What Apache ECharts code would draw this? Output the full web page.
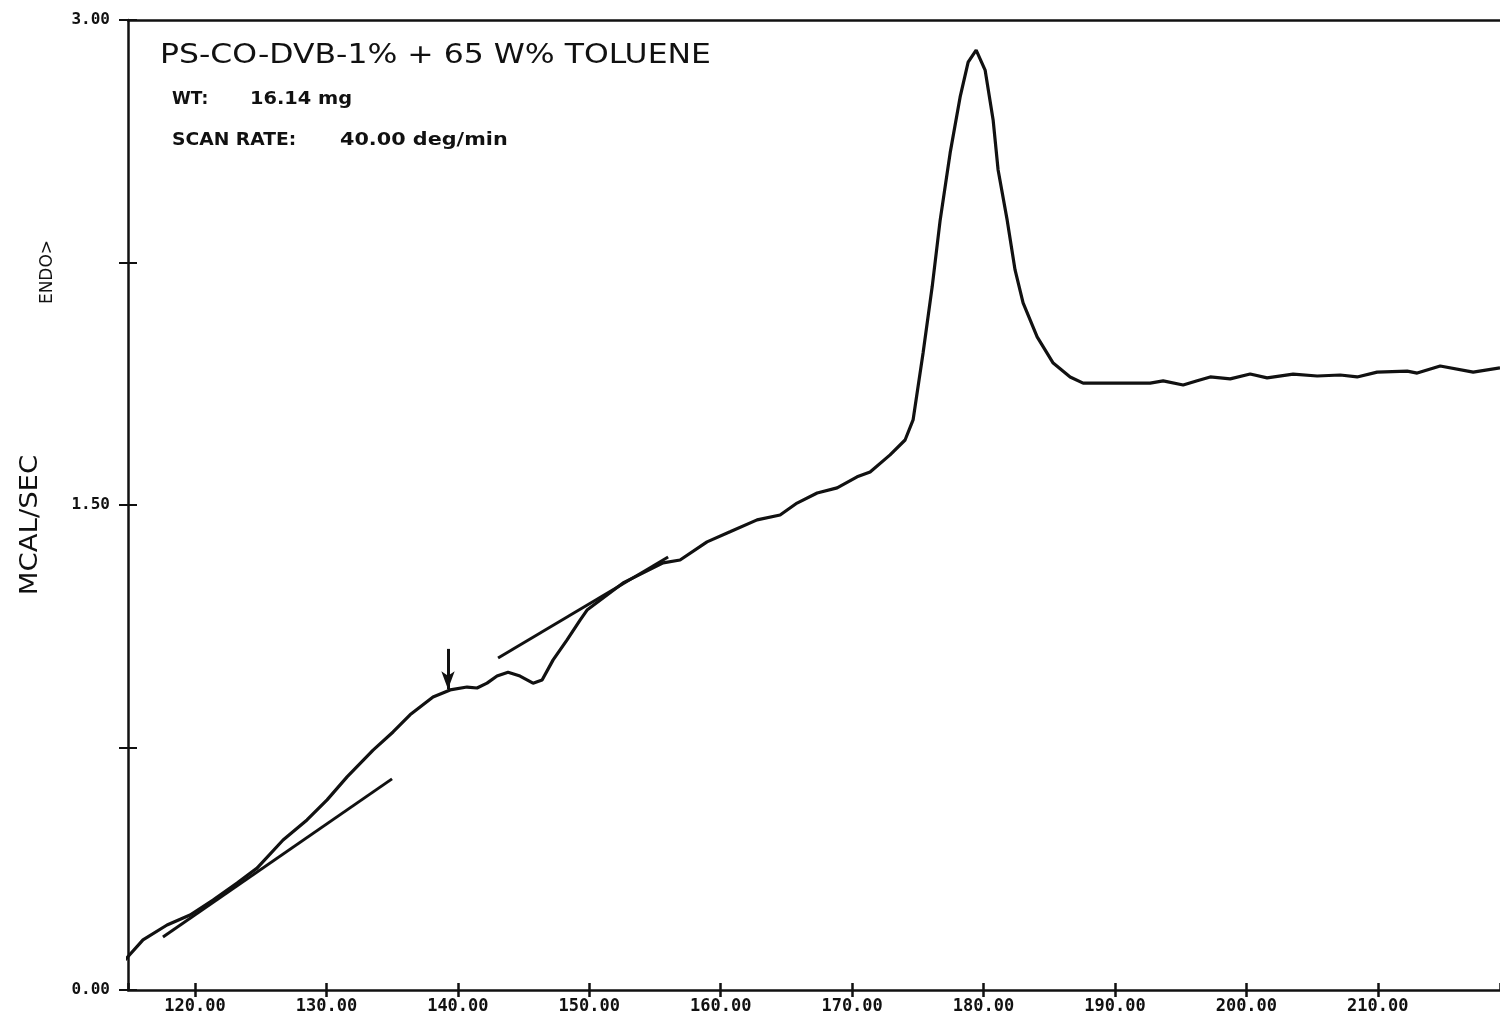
<!DOCTYPE html>
<html><head><meta charset="utf-8">
<script src="https://cdn.jsdelivr.net/npm/echarts@6/dist/echarts.min.js"></script>
<style>html,body{margin:0;padding:0;background:#fff;} #c{width:1500px;height:1022px;}</style>
</head><body><div id="c"></div>
<script>
// ---- data ----
const temperature = [114.67,116.04,117.87,119.62,121.37,123.20,124.72,126.70,128.52,130.05,131.57,133.55,135.07,136.36,138.11,139.41,
  140.70,141.46,142.22,142.98,143.82,144.73,145.72,146.41,147.25,148.31,149.30,149.83,152.57,155.62,156.91,158.96,160.71,162.77,
  164.52,165.81,167.34,168.86,170.38,171.37,172.89,174.03,174.64,175.40,176.09,176.70,177.46,178.22,178.83,179.44,180.12,180.73,
  181.11,181.80,182.40,183.01,184.08,185.30,186.59,187.58,190.17,192.68,193.67,195.19,196.26,197.25,198.77,200.29,201.58,203.56,
  205.39,207.14,208.43,209.95,212.24,213.00,214.75,217.26,219.30];
const heatFlow = [0.093,0.155,0.201,0.232,0.278,0.331,0.377,0.464,0.526,0.588,0.659,0.742,0.798,0.851,0.906,0.928,
  0.937,0.934,0.949,0.971,0.983,0.971,0.949,0.959,1.021,1.083,1.144,1.175,1.259,1.321,1.330,1.386,1.417,1.454,
  1.469,1.506,1.537,1.553,1.587,1.602,1.655,1.701,1.763,1.970,2.174,2.381,2.589,2.762,2.870,2.907,2.845,2.691,
  2.536,2.381,2.227,2.125,2.020,1.939,1.896,1.877,1.877,1.877,1.884,1.871,1.884,1.896,1.890,1.905,1.893,1.905,
  1.899,1.902,1.896,1.911,1.914,1.908,1.930,1.911,1.924];
const tangent1X = [117.56, 134.99];
const tangent1Y = [0.164, 0.653];
const tangent2X = [143.06, 156.00];
const tangent2Y = [1.027, 1.339];
const arrowX = 139.25;
const arrowY = [1.055, 0.93];
const yLabelValues = [0, 1.5, 3];
const titleText = 'PS-CO-DVB-1% + 65 W% TOLUENE';
const weightLabel = 'WT:';
const weightValue = '16.14 mg';
const rateLabel = 'SCAN RATE:';
const rateValue = '40.00 deg/min';
const yAxisName = 'MCAL/SEC';
const endoName = 'ENDO>';

// ---- chart ----
const INK = '#111';
const MONO = '"DejaVu Sans Mono", "Liberation Mono", monospace';
const SANS = '"DejaVu Sans", "Liberation Sans", sans-serif';
const xMin = 114.9, xMax = 219.3;

const zip = (xs, ys) => xs.map((x, i) => [x, ys[i]]);

const chart = echarts.init(document.getElementById('c'), null, {renderer: 'canvas'});

const xBase = {type: 'value', min: xMin, max: xMax, splitNumber: 10, splitLine: {show: false}};
const yBase = {type: 'value', min: 0, max: 3, interval: 0.75, splitLine: {show: false}};

chart.setOption({
  animation: false,
  backgroundColor: '#fff',
  grid: {left: 128, right: 0, top: 20, bottom: 32, containLabel: false},
  xAxis: [
    Object.assign({}, xBase, {
      position: 'bottom',
      axisLine: {show: true, lineStyle: {color: INK, width: 2.5}},
      axisTick: {show: true, length: 7, lineStyle: {color: INK, width: 2.5}},
      axisLabel: {show: true, margin: 8, color: INK, fontFamily: MONO, fontWeight: 'bold', fontSize: 17,
        showMinLabel: false, showMaxLabel: false,
        formatter: v => (Math.abs(v % 10) < 1e-6 ? v.toFixed(2) : '')}
    }),
    Object.assign({}, xBase, {
      position: 'bottom',
      axisLine: {show: false},
      axisTick: {show: true, inside: true, length: 7, lineStyle: {color: INK, width: 2.5}},
      axisLabel: {show: false}
    }),
    Object.assign({}, xBase, {
      position: 'top',
      axisLine: {show: true, lineStyle: {color: INK, width: 2.5}},
      axisTick: {show: false},
      axisLabel: {show: false}
    })
  ],
  yAxis: [
    Object.assign({}, yBase, {
      position: 'left',
      axisLine: {show: true, lineStyle: {color: INK, width: 2.5}},
      axisTick: {show: true, length: 9, lineStyle: {color: INK, width: 2}},
      axisLabel: {show: true, margin: 18, color: INK, fontFamily: MONO, fontWeight: 'bold', fontSize: 16,
        formatter: v => (yLabelValues.some(t => Math.abs(t - v) < 1e-6) ? v.toFixed(2) : '')}
    }),
    Object.assign({}, yBase, {
      position: 'left',
      axisLine: {show: false},
      axisTick: {show: true, inside: true, length: 9, lineStyle: {color: INK, width: 2}},
      axisLabel: {show: false}
    })
  ],
  series: [
    {
      type: 'line', name: 'DSC', xAxisIndex: 0, yAxisIndex: 0,
      data: zip(temperature, heatFlow), showSymbol: false, smooth: false,
      lineStyle: {color: INK, width: 3.2}, silent: true,
      markLine: {
        silent: true, symbol: ['none', 'arrow'], symbolSize: [10, 18],
        lineStyle: {color: INK, width: 3, type: 'solid'}, label: {show: false},
        data: [[{coord: [arrowX, arrowY[0]]}, {coord: [arrowX, arrowY[1]]}]]
      }
    },
    {
      type: 'line', name: 'tangent1', data: zip(tangent1X, tangent1Y), showSymbol: false,
      lineStyle: {color: INK, width: 3}, silent: true
    },
    {
      type: 'line', name: 'tangent2', data: zip(tangent2X, tangent2Y), showSymbol: false,
      lineStyle: {color: INK, width: 3}, silent: true
    }
  ],
  graphic: [
    {type: 'text', x: 160, y: 56, scaleX: 1.21, style: {text: titleText, fill: INK, font: '26px ' + SANS, textVerticalAlign: 'middle'}},
    {type: 'text', x: 172, y: 100, scaleX: 1.0, style: {text: weightLabel, fill: INK, font: 'bold 17px ' + SANS, textVerticalAlign: 'middle'}},
    {type: 'text', x: 250, y: 100, scaleX: 1.14, style: {text: weightValue, fill: INK, font: 'bold 17px ' + SANS, textVerticalAlign: 'middle'}},
    {type: 'text', x: 172, y: 141, scaleX: 1.1, style: {text: rateLabel, fill: INK, font: 'bold 17px ' + SANS, textVerticalAlign: 'middle'}},
    {type: 'text', x: 340, y: 141, scaleX: 1.22, style: {text: rateValue, fill: INK, font: 'bold 17px ' + SANS, textVerticalAlign: 'middle'}},
    {type: 'text', x: 30, y: 525, rotation: Math.PI / 2, scaleX: 1.1,
      style: {text: yAxisName, fill: INK, font: '25px ' + SANS, textAlign: 'center', textVerticalAlign: 'middle'}},
    {type: 'text', x: 48, y: 272, rotation: Math.PI / 2, scaleX: 1.0,
      style: {text: endoName, fill: INK, font: '17px ' + SANS, textAlign: 'center', textVerticalAlign: 'middle'}}
  ]
});
</script></body></html>
